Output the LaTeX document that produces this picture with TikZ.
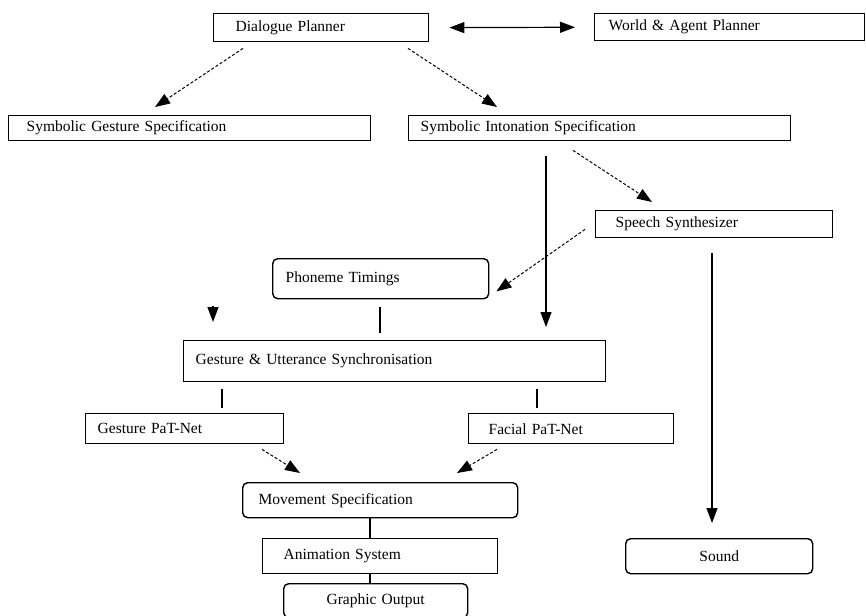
\documentclass[tikz,border=0pt]{standalone}
\usepackage{fontspec}
\setmainfont{Liberation Serif}
\usetikzlibrary{arrows.meta}

\begin{document}
\begin{tikzpicture}[x=1pt, y=-1pt,
    box/.style={draw, line width=1.4pt, anchor=north west, align=left,
        inner ysep=0pt, font=\fontsize{15.5}{17}\selectfont},
    roundbox/.style={box, rounded corners=5pt},
    flow/.style={line width=1.2pt, -{Triangle[length=15pt,width=11pt]}},
    dashflow/.style={flow, line width=1pt, dash pattern=on 3pt off 2pt},
    link/.style={line width=1.2pt}]
    \useasboundingbox (0,0) rectangle (866,615);

    % Planners
    \node[box, text width=171pt, inner xsep=22pt, minimum height=28pt] (dp) at (213,13) {Dialogue Planner};
    \node[box, text width=242pt, inner xsep=14pt, minimum height=27pt] (wap) at (594,13) {World \& Agent Planner};

    % Symbolic specifications
    \node[box, text width=326pt, inner xsep=18pt, minimum height=25pt] (sgs) at (8,115) {Symbolic Gesture Specification};
    \node[box, text width=358pt, inner xsep=12pt, minimum height=25pt] (sis) at (408,115) {Symbolic Intonation Specification};

    % Speech side
    \node[box, text width=197pt, inner xsep=20pt, minimum height=27pt] (ss) at (595,210) {Speech Synthesizer};
    \node[roundbox, text width=190pt, inner xsep=13pt, minimum height=40pt] (pt) at (272,258) {Phoneme Timings};
    \node[roundbox, text width=127pt, inner xsep=30pt, minimum height=35pt, align=center] (snd) at (625,538) {Sound};

    % Synchronisation and PaT-Nets
    \node[box, text width=398pt, inner xsep=12pt, minimum height=41pt] (gus) at (183,340) {Gesture \& Utterance Synchronisation};
    \node[box, text width=174pt, inner xsep=12pt, minimum height=30pt] (gpn) at (85,413) {Gesture PaT-Net};
    \node[box, text width=165pt, inner xsep=20pt, minimum height=30pt] (fpn) at (468,413) {Facial PaT-Net};

    % Output chain
    \node[roundbox, text width=243pt, inner xsep=16pt, minimum height=35pt] (ms) at (242,482) {Movement Specification};
    \node[box, text width=193pt, inner xsep=21pt, minimum height=35pt] (as) at (262,538) {Animation System};
    \node[roundbox, text width=164pt, inner xsep=10pt, minimum height=34pt, align=center] (go) at (283,583) {Graphic Output};

    % Arrows between planners
    \draw[link, {Triangle[length=15pt,width=11pt]}-{Triangle[length=15pt,width=11pt]}, shorten <=20pt, shorten >=19pt] (dp.east) -- (wap.west);
    \draw[dashflow] ([xshift=30pt,yshift=-6pt]dp.south west) -- ([xshift=147pt,yshift=8pt]sgs.north west);
    \draw[dashflow] ([xshift=195pt,yshift=-6pt]dp.south west) -- ([xshift=89pt,yshift=8pt]sis.north west);

    % From intonation specification
    \draw[flow] ([xshift=138pt,yshift=-15pt]sis.south west) -- ([xshift=363pt,yshift=13pt]gus.north west);
    \draw[dashflow] ([xshift=165pt,yshift=-9pt]sis.south west) -- ([xshift=57pt,yshift=8pt]ss.north west);

    % From speech synthesizer
    \draw[dashflow] ([xshift=-10pt,yshift=9pt]ss.south west) -- ([xshift=7pt,yshift=8pt]pt.south east);
    \draw[flow] ([xshift=117pt,yshift=-15pt]ss.south west) -- ([xshift=87pt,yshift=15pt]snd.north west);

    % Into synchronisation
    \draw[flow] ([xshift=30pt,yshift=34pt]gus.north west) -- ([xshift=30pt,yshift=18pt]gus.north west);
    \draw[link] ([xshift=108pt,yshift=-8pt]pt.south west) -- ([xshift=197pt,yshift=7pt]gus.north west);

    % Out of synchronisation
    \draw[link] ([xshift=39pt,yshift=-7pt]gus.south west) -- ([xshift=137pt,yshift=5pt]gpn.north west);
    \draw[link] ([xshift=354pt,yshift=-7pt]gus.south west) -- ([xshift=69pt,yshift=5pt]fpn.north west);

    % Into movement specification
    \draw[dashflow] ([xshift=177pt,yshift=-5pt]gpn.south west) -- ([xshift=58pt,yshift=9pt]ms.north west);
    \draw[dashflow] ([xshift=29pt,yshift=-5pt]fpn.south west) -- ([xshift=215pt,yshift=9pt]ms.north west);

    % Output chain links
    \draw[link] ([xshift=128pt]ms.south west) -- ([xshift=108pt]as.north west);
    \draw[link] ([xshift=108pt]as.south west) -- ([xshift=87pt]go.north west);
\end{tikzpicture}
\end{document}
